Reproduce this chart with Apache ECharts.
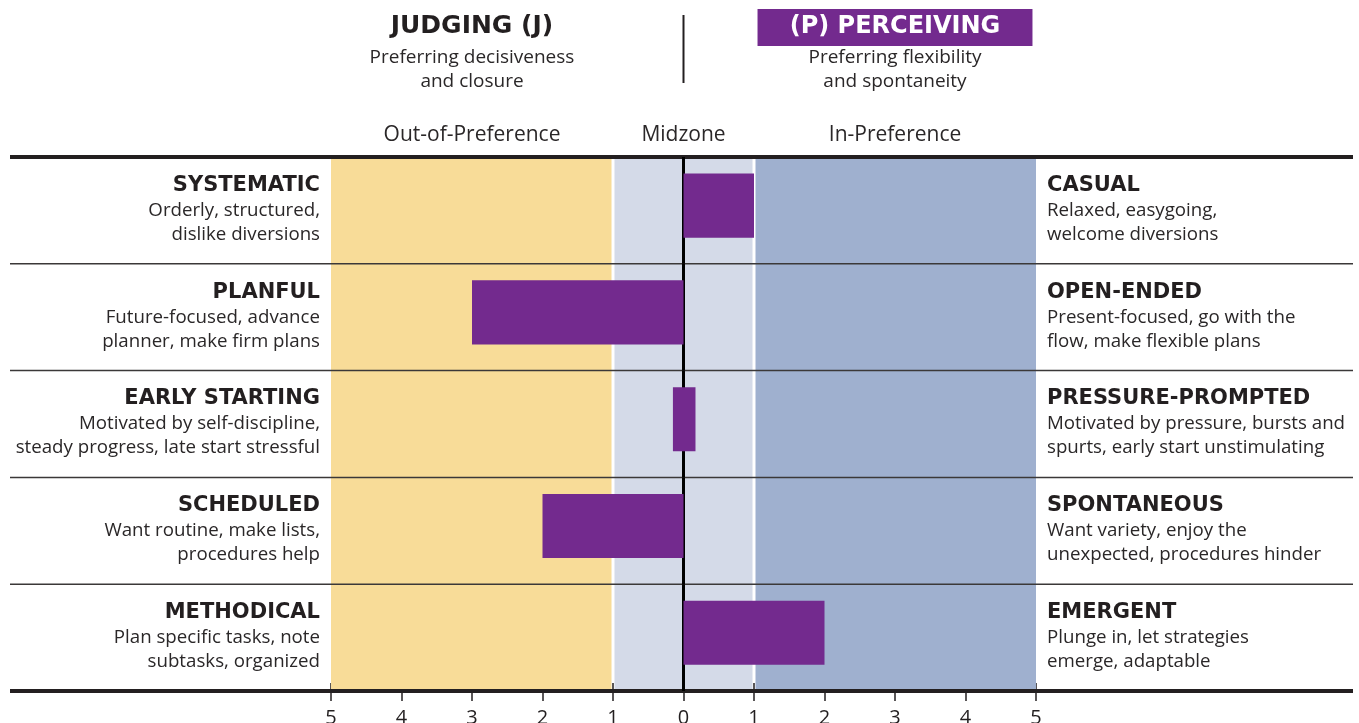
<!DOCTYPE html>
<html>
<head>
<meta charset="utf-8">
<script src="https://cdn.jsdelivr.net/npm/echarts@6/dist/echarts.min.js"></script>
<style>
html,body{margin:0;padding:0;background:#fff;}
#c{width:1359px;height:723px;}
</style>
</head>
<body>
<div id="c"></div>
<script>
// ---- data ----
const categories = ['SYSTEMATIC', 'PLANFUL', 'EARLY STARTING', 'SCHEDULED', 'METHODICAL'];
const leftTitles = ['SYSTEMATIC', 'PLANFUL', 'EARLY STARTING', 'SCHEDULED', 'METHODICAL'];
const leftLine1 = ['Orderly, structured,', 'Future-focused, advance', 'Motivated by self-discipline,', 'Want routine, make lists,', 'Plan specific tasks, note'];
const leftLine2 = ['dislike diversions', 'planner, make firm plans', 'steady progress, late start stressful', 'procedures help', 'subtasks, organized'];
const rightTitles = ['CASUAL', 'OPEN-ENDED', 'PRESSURE-PROMPTED', 'SPONTANEOUS', 'EMERGENT'];
const rightLine1 = ['Relaxed, easygoing,', 'Present-focused, go with the', 'Motivated by pressure, bursts and', 'Want variety, enjoy the', 'Plunge in, let strategies'];
const rightLine2 = ['welcome diversions', 'flow, make flexible plans', 'spurts, early start unstimulating', 'unexpected, procedures hinder', 'emerge, adaptable'];
const barStart = [0, -3, -0.15, -2, 0];
const barEnd = [1, 0, 0.17, 0, 2];
const zoneStart = [-5, -1, 1];
const zoneEnd = [-1, 1, 5];
const zoneNames = ['Out-of-Preference', 'Midzone', 'In-Preference'];
const tickValues = [-5, -4, -3, -2, -1, 0, 1, 2, 3, 4, 5];
const tickLabels = ['5', '4', '3', '2', '1', '0', '1', '2', '3', '4', '5'];
const leftPole = 'JUDGING (J)';
const leftPoleDesc = ['Preferring decisiveness', 'and closure'];
const rightPole = '(P) PERCEIVING';
const rightPoleDesc = ['Preferring flexibility', 'and spontaneity'];

// ---- style ----
const FONT = "'Open Sans', 'Noto Sans', sans-serif";
const BOLD = "'DejaVu Sans', 'Open Sans', sans-serif";
const INK = '#231f20';
const TXT = '#2a2728';
const PURPLE = '#732a8e';
const zoneColors = ['#f8dc98', '#d4dae8', '#9fb0cf'];

const chart = echarts.init(document.getElementById('c'), null, {renderer: 'canvas'});

function rowLabel(titles, l1, l2) {
  return function (v, idx) {
    return '{t|' + titles[idx] + '}\n{d|' + l1[idx] + '}\n{d|' + l2[idx] + '}';
  };
}
const richStyle = {
  t: {fontFamily: BOLD, fontSize: 21, fontWeight: 'bold', color: INK, lineHeight: 26},
  d: {fontFamily: FONT, fontSize: 18.7, color: TXT, lineHeight: 24}
};

const option = {
  animation: false,
  backgroundColor: '#fff',
  grid: {left: 331, right: 323, top: 157, bottom: 32, containLabel: false, outerBoundsMode: 'none'},
  xAxis: [
    {
      type: 'value', min: -5, max: 5, interval: 1, position: 'bottom',
      axisLine: {show: false},
      axisTick: {show: true, inside: false, length: 10, lineStyle: {color: INK, width: 1.5}},
      splitLine: {show: false},
      axisLabel: {
        margin: 17, fontFamily: FONT, fontSize: 20, color: INK,
        formatter: function (v) { return tickLabels[tickValues.indexOf(Math.round(v))]; }
      }
    },
    {
      type: 'value', min: -5, max: 5, interval: 1, position: 'bottom',
      axisLine: {show: false},
      axisTick: {show: true, inside: true, length: 8, lineStyle: {color: INK, width: 1.5}},
      splitLine: {show: false},
      axisLabel: {show: false}
    }
  ],
  yAxis: [
    {
      type: 'category', data: categories, inverse: true, position: 'left',
      axisLine: {show: false}, axisTick: {show: false}, splitLine: {show: false},
      axisLabel: {
        margin: 11, align: 'right', padding: [0, 0, 2, 0],
        formatter: rowLabel(leftTitles, leftLine1, leftLine2), rich: richStyle
      }
    },
    {
      type: 'category', data: categories, inverse: true, position: 'right',
      axisLine: {show: false}, axisTick: {show: false}, splitLine: {show: false},
      axisLabel: {
        margin: 11, align: 'left', padding: [0, 0, 2, 0],
        formatter: rowLabel(rightTitles, rightLine1, rightLine2), rich: richStyle
      }
    }
  ],
  series: [
    {
      // preference zones
      type: 'custom', z: 1, silent: true, clip: false,
      data: zoneStart.map((s, i) => [s, zoneEnd[i]]),
      renderItem: function (params, api) {
        const cs = params.coordSys;
        const s = api.value(0), e = api.value(1);
        let x0 = api.coord([s, 0])[0];
        let x1 = api.coord([e, 0])[0];
        if (s > -5) x0 += 1.5;
        if (e < 5) x1 -= 1.5;
        return {
          type: 'rect',
          shape: {x: x0, y: cs.y, width: x1 - x0, height: cs.height},
          style: {fill: zoneColors[params.dataIndex]}
        };
      }
    },
    {
      // row separators, frame lines and zero line
      type: 'custom', z: 2, silent: true, clip: false,
      data: categories.map((c, i) => [0, i]),
      renderItem: function (params, api) {
        const i = params.dataIndex;
        const cy = api.coord([0, i])[1];
        const half = api.size([0, 1])[1] / 2;
        const x0 = 10, x1 = api.getWidth() - 6;
        const children = [];
        const yTop = cy - half;
        children.push({
          type: 'line', z2: 1,
          shape: {x1: x0, y1: yTop, x2: x1, y2: yTop},
          style: {stroke: i === 0 ? INK : '#3b3838', lineWidth: i === 0 ? 4 : 1.5}
        });
        if (i === categories.length - 1) {
          const yBot = cy + half;
          children.push({
            type: 'line', z2: 1,
            shape: {x1: x0, y1: yBot, x2: x1, y2: yBot},
            style: {stroke: INK, lineWidth: 4}
          });
        }
        const zx = api.coord([0, i])[0];
        children.push({
          type: 'line', z2: 2,
          shape: {x1: zx, y1: cy - half, x2: zx, y2: cy + half},
          style: {stroke: '#000', lineWidth: 3}
        });
        return {type: 'group', children: children};
      }
    },
    {
      // score bars
      type: 'custom', z: 4, clip: false,
      data: categories.map((c, i) => [barStart[i], barEnd[i], i]),
      encode: {x: [0, 1], y: 2},
      renderItem: function (params, api) {
        const i = api.value(2);
        const p0 = api.coord([api.value(0), i]);
        const p1 = api.coord([api.value(1), i]);
        const band = api.size([0, 1])[1];
        const h = band * 0.6;
        const cy = p0[1] - band * 0.045;
        return {
          type: 'rect',
          shape: {x: Math.min(p0[0], p1[0]), y: cy - h / 2, width: Math.abs(p1[0] - p0[0]), height: h},
          style: {fill: PURPLE}
        };
      }
    }
  ]
};
chart.setOption(option);

// header texts placed via the axis scale
const px = v => chart.convertToPixel({xAxisIndex: 0}, v);
const xl = px(-3), xr = px(3), x0 = px(0);
const zoneCenters = zoneStart.map((s, i) => px((s + zoneEnd[i]) / 2));
const graphics = [
  {type: 'text', x: xl, y: 26, style: {text: leftPole, fontFamily: BOLD, fontSize: 25, fontWeight: 'bold', fill: INK, align: 'center', verticalAlign: 'middle'}},
  {type: 'text', x: xl, y: 58, style: {text: leftPoleDesc[0], fontFamily: FONT, fontSize: 19, fill: TXT, align: 'center', verticalAlign: 'middle'}},
  {type: 'text', x: xl, y: 82, style: {text: leftPoleDesc[1], fontFamily: FONT, fontSize: 19, fill: TXT, align: 'center', verticalAlign: 'middle'}},
  {type: 'rect', shape: {x: px(1.05), y: 9, width: px(4.95) - px(1.05), height: 37}, style: {fill: PURPLE}},
  {type: 'text', x: xr, y: 27, style: {text: rightPole, fontFamily: BOLD, fontSize: 24, fontWeight: 'bold', fill: '#fff', align: 'center', verticalAlign: 'middle'}},
  {type: 'text', x: xr, y: 58, style: {text: rightPoleDesc[0], fontFamily: FONT, fontSize: 19, fill: TXT, align: 'center', verticalAlign: 'middle'}},
  {type: 'text', x: xr, y: 82, style: {text: rightPoleDesc[1], fontFamily: FONT, fontSize: 19, fill: TXT, align: 'center', verticalAlign: 'middle'}},
  {type: 'line', shape: {x1: x0, y1: 15, x2: x0, y2: 83}, style: {stroke: INK, lineWidth: 2}}
];
zoneNames.forEach((n, i) => {
  graphics.push({type: 'text', x: zoneCenters[i], y: 135, style: {text: n, fontFamily: FONT, fontSize: 21, fill: TXT, align: 'center', verticalAlign: 'middle'}});
});
chart.setOption({graphic: graphics});
</script>
</body>
</html>
